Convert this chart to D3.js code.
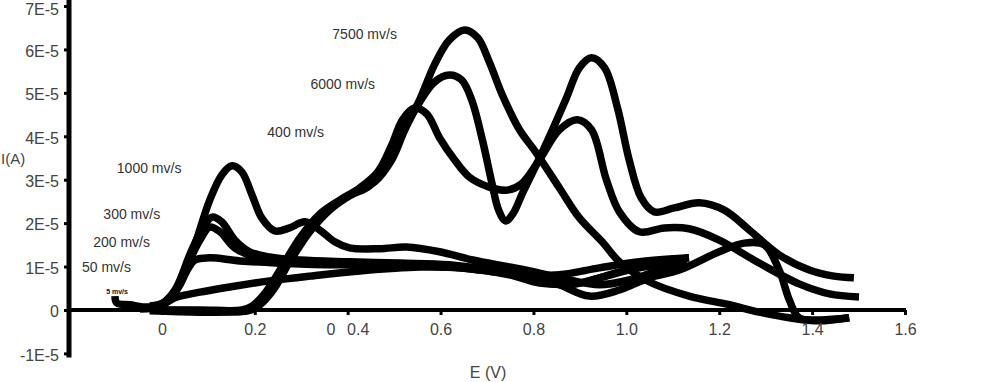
<!DOCTYPE html>
<html><head><meta charset="utf-8">
<script src="https://cdn.jsdelivr.net/npm/d3@7"></script>
<style>
html,body{margin:0;padding:0;background:#fff;}
svg{display:block;font-family:"Liberation Sans",Arial,sans-serif;}
</style></head>
<body>
<svg id="chart" width="1000" height="382"></svg>
<script>
// ---- data (E in V, I in units of 1E-5 A) ----
const yTickValues = [-1, 0, 1, 2, 3, 4, 5, 6, 7];
const yTickLabels = ["-1E-5", "0", "1E-5", "2E-5", "3E-5", "4E-5", "5E-5", "6E-5", "7E-5"];
const xTickValues = [0, 0.2, 0.4, 0.6, 0.8, 1.0, 1.2, 1.4, 1.6];
const xTickLabels = ["0", "0.2", "0.4", "0.6", "0.8", "1.0", "1.2", "1.4", "1.6"];

const e7500 = [-0.026,0.082,0.178,0.206,0.232,0.275,0.318,0.361,0.404,0.447,0.480,0.523,0.555,0.587,0.619,0.652,0.680,0.705,0.733,0.770,0.806,0.856,0.899,0.948,0.985,1.049,1.135,1.222,1.286,1.351,1.415,1.480];
const i7500 = [-0.02,-0.05,-0.02,0.09,0.41,1.11,1.80,2.30,2.63,2.86,3.34,4.19,4.84,5.65,6.22,6.45,6.27,5.71,4.95,4.15,3.62,2.81,2.12,1.57,1.11,0.65,0.32,0.12,-0.05,-0.18,-0.25,-0.18];

const e6000 = [-0.026,0.082,0.185,0.211,0.243,0.286,0.329,0.372,0.415,0.458,0.495,0.523,0.551,0.587,0.619,0.645,0.667,0.690,0.710,0.725,0.740,0.756,0.776,0.806,0.841,0.871,0.899,0.925,0.953,0.981,1.006,1.032,1.060,1.103,1.157,1.211,1.265,1.329,1.394,1.447,1.490];
const i6000 = [0,-0.02,-0.02,0.12,0.51,1.34,2.03,2.44,2.70,2.95,3.46,4.15,4.72,5.25,5.41,5.30,4.84,3.92,2.95,2.30,2.05,2.22,2.68,3.34,4.15,4.88,5.58,5.81,5.58,4.65,3.46,2.58,2.26,2.35,2.47,2.30,1.84,1.27,0.92,0.78,0.74];

const e400 = [-0.026,0.082,0.172,0.194,0.222,0.265,0.297,0.340,0.383,0.426,0.465,0.495,0.518,0.544,0.570,0.598,0.630,0.662,0.705,0.744,0.774,0.813,0.856,0.895,0.925,0.957,0.985,1.028,1.082,1.135,1.200,1.286,1.372,1.437,1.501];
const i400 = [0,0,0,0.09,0.39,1.11,1.66,2.21,2.53,2.81,3.18,3.80,4.38,4.65,4.52,3.96,3.46,3.06,2.83,2.76,2.90,3.46,4.15,4.38,4.15,3.00,2.26,1.80,1.89,1.87,1.61,1.08,0.60,0.37,0.30];

const e1000 = [-0.026,0.006,0.039,0.071,0.103,0.129,0.151,0.172,0.194,0.215,0.243,0.275,0.308,0.340,0.372,0.404,0.469,0.527,0.598,0.669,0.748,0.813,0.877,0.942,1.006,1.071,1.125];
const i1000 = [0.09,0.18,0.58,1.50,2.53,3.11,3.32,3.18,2.65,2.12,1.82,1.89,2.03,1.84,1.57,1.43,1.41,1.45,1.34,1.15,0.99,0.85,0.69,0.58,0.69,0.92,1.11];

const e300 = [-0.047,-0.004,0.028,0.060,0.082,0.108,0.129,0.157,0.189,0.232,0.297,0.404,0.512,0.619,0.727,0.813,0.877,0.942,1.028,1.131];
const i300 = [0.05,0.12,0.46,1.27,1.77,2.14,2.03,1.61,1.34,1.22,1.15,1.11,1.08,1.04,0.88,0.65,0.58,0.74,0.97,1.11];

const e200 = [-0.047,-0.004,0.028,0.060,0.082,0.103,0.125,0.157,0.200,0.254,0.361,0.512,0.641,0.748,0.813,0.899,0.985,1.071,1.135];
const i200 = [0.02,0.09,0.41,1.15,1.61,1.91,1.80,1.43,1.22,1.13,1.08,1.04,0.97,0.81,0.62,0.62,0.88,1.11,1.20];

const e50 = [-0.026,0.017,0.049,0.071,0.103,0.168,0.297,0.426,0.555,0.684,0.770,0.856,0.942,1.028,1.135];
const i50 = [0.02,0.23,0.81,1.15,1.20,1.13,1.06,1.04,1.06,0.92,0.81,0.81,0.97,1.11,1.20];

const e5 = [-0.101,-0.097,-0.069,-0.037,-0.004,0.028,0.082,0.146,0.232,0.318,0.426,0.555,0.662,0.770,0.856,0.920,0.985,1.049,1.114,1.200,1.254,1.297,1.329,1.351,1.372,1.415,1.480];
const i5 = [0.32,0.16,0.12,0.07,0.09,0.28,0.41,0.53,0.67,0.78,0.90,0.99,0.97,0.90,0.58,0.32,0.46,0.74,0.92,1.34,1.54,1.50,0.92,0.23,-0.18,-0.23,-0.18];

const seriesE = [e7500, e6000, e400, e1000, e300, e200, e50, e5];
const seriesI = [i7500, i6000, i400, i1000, i300, i200, i50, i5];

const labelTexts = ["7500 mv/s", "6000 mv/s", "400 mv/s", "1000 mv/s", "300 mv/s", "200 mv/s", "50 mv/s"];
const labelE = [0.367, 0.320, 0.227, -0.097, -0.126, -0.148, -0.172];
const labelI = [6.33, 5.18, 4.08, 3.25, 2.19, 1.54, 0.97];

// ---- scales ----
const svg = d3.select("#chart");
const x = d3.scaleLinear().domain([-0.2, 1.6]).range([69, 905]);
const y = d3.scaleLinear().domain([-1, 7]).range([353.4, 6]);

const line = d3.line()
  .x(d => x(d[0])).y(d => y(d[1]))
  .curve(d3.curveCatmullRom.alpha(0.5));

// curves
const g = svg.append("g");
seriesE.forEach((es, k) => {
  const pts = es.map((e, j) => [e, seriesI[k][j]]);
  g.append("path").attr("d", line(pts))
    .attr("fill", "none").attr("stroke", "#000")
    .attr("stroke-width", 7.5).attr("stroke-linejoin", "round").attr("stroke-linecap", "butt");
});

// ---- axes ----
const tickColor = "#444";
const fontFam = "'Liberation Sans', Arial, sans-serif";
// x axis
const xAxis = d3.axisBottom(x).tickValues(xTickValues)
  .tickFormat((d, i) => xTickLabels[i]).tickSize(5).tickSizeOuter(0).tickPadding(9);
const gx = svg.append("g").attr("transform", `translate(0,${y(0)})`).call(xAxis);
gx.select(".domain").remove();
gx.selectAll(".tick line").attr("stroke", "#000").attr("stroke-width", 3);
gx.selectAll(".tick text").attr("fill", tickColor).style("font-size", "16px").style("font-family", fontFam)
  .attr("dx", d => Math.abs(d - 0.4) < 1e-9 ? 10 : 0);
svg.append("line").attr("x1", x(-0.2)).attr("x2", x(1.6) + 1)
  .attr("y1", y(0)).attr("y2", y(0)).attr("stroke", "#000").attr("stroke-width", 4);

// y axis
const yAxis = d3.axisLeft(y).tickValues(yTickValues)
  .tickFormat((d, i) => yTickLabels[i]).tickSize(5).tickSizeOuter(0).tickPadding(5);
const gy = svg.append("g").attr("transform", `translate(${x(-0.2)},0)`).call(yAxis);
gy.select(".domain").remove();
gy.selectAll(".tick line").attr("stroke", "#000").attr("stroke-width", 3);
gy.selectAll(".tick text").attr("fill", tickColor).style("font-size", "16px").style("font-family", fontFam)
  .attr("dy", (d) => d === 7 ? "0.55em" : "0.42em");
svg.append("line").attr("x1", x(-0.2)).attr("x2", x(-0.2))
  .attr("y1", 0).attr("y2", y(-1) + 4).attr("stroke", "#000").attr("stroke-width", 5);

// stray label as in original
svg.append("text").attr("x", x(0.364)).attr("y", y(0) + 14).attr("dy", "0.71em")
  .attr("text-anchor", "middle").attr("fill", tickColor).style("font-size", "16px").text("0");

// axis titles
svg.append("text").attr("x", 488).attr("y", 378).attr("text-anchor", "middle")
  .attr("fill", tickColor).style("font-size", "16px").text("E (V)");
svg.append("text").attr("x", 1).attr("y", 164).attr("fill", tickColor)
  .style("font-size", "15px").text("I(A)");

// annotations
labelTexts.forEach((t, k) => {
  svg.append("text").attr("x", x(labelE[k])).attr("y", y(labelI[k]))
    .attr("dominant-baseline", "middle").attr("fill", "#333")
    .style("font-size", "14px").text(t);
});
svg.append("text").attr("x", x(-0.12)).attr("y", y(0.4))
  .attr("dominant-baseline", "middle").attr("fill", "#111")
  .style("font-size", "7px").style("font-weight", "bold").text("5 mv/s");
</script>
</body></html>
